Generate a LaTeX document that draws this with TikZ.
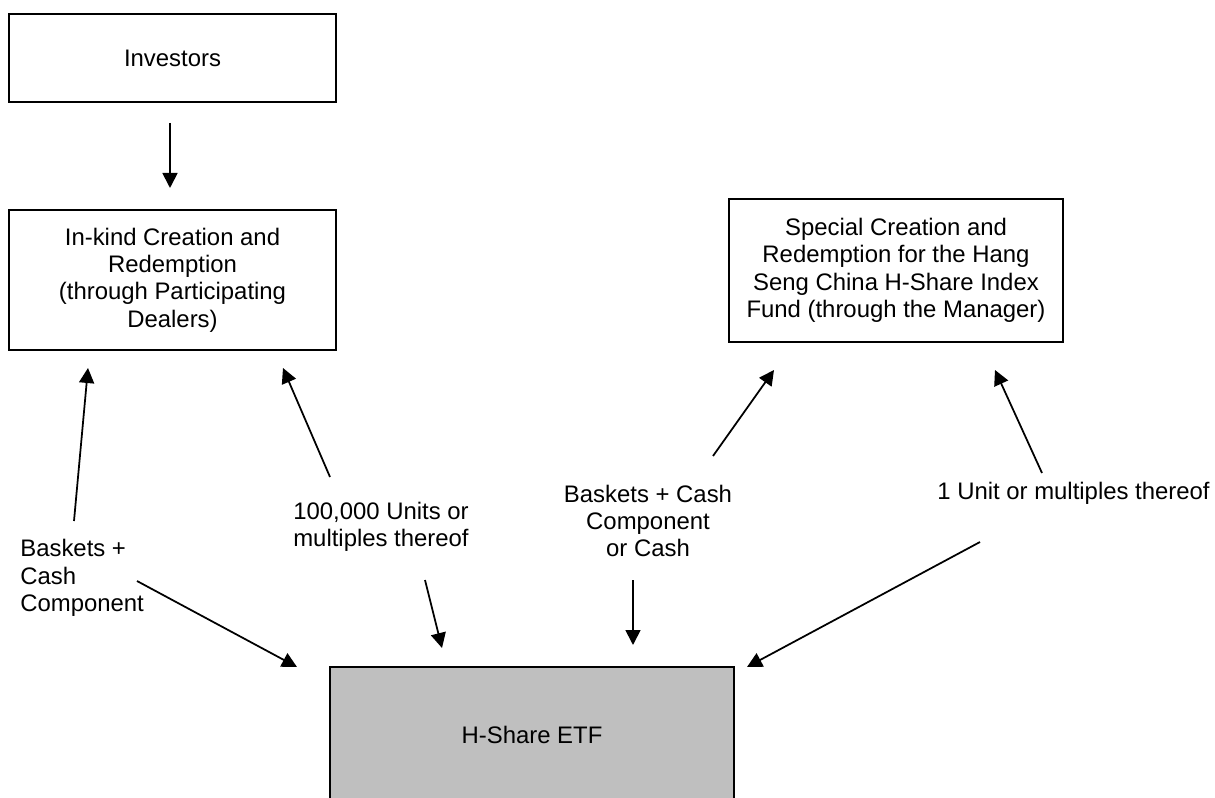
\documentclass[tikz,border=0pt]{standalone}
\usepackage{fontspec}
\setmainfont{Liberation Sans}
\usetikzlibrary{arrows.meta}

\begin{document}
\begin{tikzpicture}[x=0.2mm, y=-0.2mm,
        font=\fontsize{13.6}{15.6}\selectfont,
        box/.style={draw, rectangle, align=center, line width=1pt, inner sep=0pt},
        lbl/.style={inner sep=0pt, align=center},
        arrow/.style={-{Triangle[length=3mm, width=3mm]}, line width=1pt}
    ]
        \clip (0,0) rectangle (1215,798);
        \fill[white] (0,0) rectangle (1215,798);

        \node[box, minimum width=65.4mm, minimum height=17.6mm] (investors) at (172.5,58) {Investors};
        \node[box, minimum width=65.4mm, minimum height=28mm] (inkind) at (172.5,280) {In-kind Creation and\\Redemption\\(through Participating\\Dealers)};
        \node[box, minimum width=66.8mm, minimum height=28.6mm] (special) at (896,270.5) {Special Creation and\\Redemption for the Hang\\Seng China H-Share Index\\Fund (through the Manager)};
        \node[box, fill=black!25, minimum width=80.8mm, minimum height=27.2mm] (etf) at (532,735) {H-Share ETF};

        \node[lbl, align=left, anchor=west] (basketsL) at (20,578) {Baskets +\\Cash\\Component};
        \node[lbl] (unitsL) at (381,527) {100,000 Units or\\multiples thereof};
        \node[lbl] (basketsR) at (648,521) {Baskets + Cash\\Component\\or Cash};
        \node[lbl] (unitsR) at (1073.5,493) {1 Unit or multiples thereof};

        % arrow ends
        \coordinate (investorsOut) at (170,123);
        \coordinate (inkindIn) at (170,188);
        \coordinate (upA) at (74,521);
        \coordinate (upAtip) at (88,368);
        \coordinate (upB) at (330,477);
        \coordinate (upBtip) at (283,368);
        \coordinate (upC) at (713,456);
        \coordinate (upCtip) at (774,370);
        \coordinate (upD) at (1042,473);
        \coordinate (upDtip) at (995,370);
        \coordinate (downA) at (137,581);
        \coordinate (downAtip) at (297,667);
        \coordinate (downB) at (425,580);
        \coordinate (downBtip) at (442,648);
        \coordinate (downC) at (633,580);
        \coordinate (downCtip) at (633,645);
        \coordinate (downD) at (980,542);
        \coordinate (downDtip) at (747,667);

        \draw[arrow] (investorsOut) -- (inkindIn);
        \draw[arrow] (upA) -- (upAtip);
        \draw[arrow] (upB) -- (upBtip);
        \draw[arrow] (upC) -- (upCtip);
        \draw[arrow] (upD) -- (upDtip);
        \draw[arrow] (downA) -- (downAtip);
        \draw[arrow] (downB) -- (downBtip);
        \draw[arrow] (downC) -- (downCtip);
        \draw[arrow] (downD) -- (downDtip);
    \end{tikzpicture}
\end{document}
